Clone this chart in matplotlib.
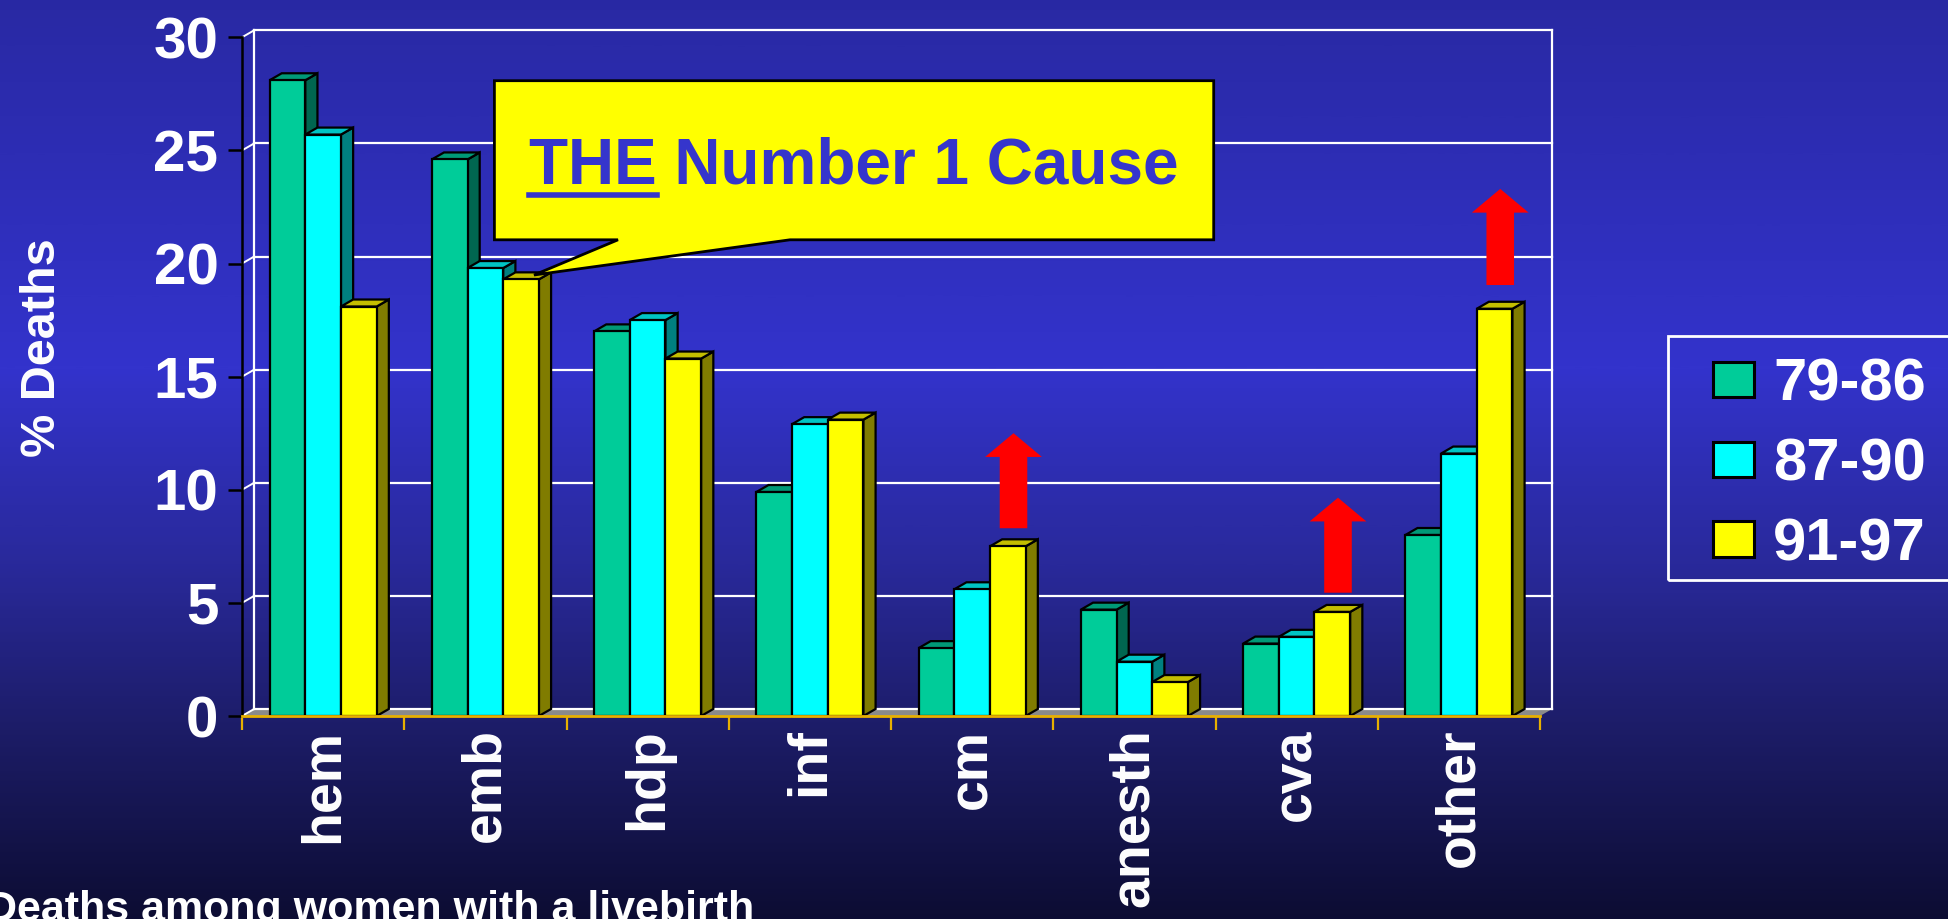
import matplotlib
matplotlib.use("Agg")
import matplotlib.pyplot as plt
import numpy as np
from matplotlib.patches import Polygon, Rectangle, FancyArrow
from matplotlib.colors import LinearSegmentedColormap

plt.rcParams['font.family'] = ['Liberation Sans', 'DejaVu Sans']
plt.rcParams['font.weight'] = 'bold'

categories = ["hem", "emb", "hdp", "inf", "cm", "anesth", "cva", "other"]
periods = ["79-86", "87-90", "91-97"]
deaths_79_86 = [28.1, 24.6, 17.0, 9.9, 3.0, 4.7, 3.2, 8.0]
deaths_87_90 = [25.7, 19.8, 17.5, 12.9, 5.6, 2.4, 3.5, 11.6]
deaths_91_97 = [18.1, 19.3, 15.8, 13.1, 7.5, 1.5, 4.6, 18.0]
y_ticks = [0, 5, 10, 15, 20, 25, 30]

# red arrows showing the rise: category, start value, length
arrow_cats = ["cm", "cva", "other"]
arrow_start = [8.3, 5.45, 19.05]
arrow_len = [4.2, 4.2, 4.25]

callout_text = "THE Number 1 Cause"
caption = "Deaths among women with a livebirth"

front_col = ["#00CC99", "#00FFFF", "#FFFF00"]
top_col = ["#009977", "#00C4C4", "#C4BE00"]
side_col = ["#006650", "#008080", "#807C00"]

W, H = 1948, 919
fig = plt.figure(figsize=(W / 100, H / 100), dpi=100)

def fx(x):
    return x / W

def fy(y):
    return 1 - y / H

# fondo degradado
bg = fig.add_axes([0, 0, 1, 1])
bg.axis("off")
cmap = LinearSegmentedColormap.from_list("bg", [
    (0.0, (0.16, 0.16, 0.64)),
    (0.4, (0.20, 0.20, 0.80)),
    (0.62, (0.16, 0.16, 0.60)),
    (0.8, (0.11, 0.11, 0.40)),
    (1.0, (0.05, 0.05, 0.20))])
grad = np.linspace(0, 1, 400).reshape(-1, 1)
bg.imshow(grad, aspect="auto", cmap=cmap, extent=[0, 1, 0, 1], origin="upper")

ax = fig.add_axes([242 / W, 1 - 716 / H, 1298 / W, 678.7 / H])
ax.set_xlim(-0.5, 7.5)
ax.set_ylim(0, 30)
ax.patch.set_alpha(0)
for s in ["top", "right"]:
    ax.spines[s].set_visible(False)

dx, dy = 0.075, 0.31
n = len(categories)

# suelo y paredes
ax.add_patch(Polygon([(-0.5, 0), (n - 0.5, 0), (n - 0.5 + dx, dy), (-0.5 + dx, dy)],
                     closed=True, fc="#8A8A8A", ec="none", clip_on=False, zorder=1))
for v in y_ticks:
    ax.plot([-0.5 + dx, n - 0.5 + dx], [v + dy, v + dy], color="white", lw=1.6,
            clip_on=False, zorder=1.5)
    ax.plot([-0.5, -0.5 + dx], [v, v + dy], color="white", lw=1.4, clip_on=False, zorder=1.5)
for xe in [-0.5 + dx, n - 0.5 + dx]:
    ax.plot([xe, xe], [dy, 30 + dy], color="white", lw=1.6, clip_on=False, zorder=1.5)

# barras 3D
bw = 0.22
series = [deaths_79_86, deaths_87_90, deaths_91_97]
for j in range(n):
    for i, vals in enumerate(series):
        h = vals[j]
        x0 = j + (i - 1) * bw - bw / 2
        z = 3 + j * 5 + i
        ax.add_patch(Polygon([(x0 + bw, 0), (x0 + bw + dx, dy), (x0 + bw + dx, h + dy), (x0 + bw, h)],
                             closed=True, fc=side_col[i], ec="black", lw=1.6, clip_on=False, zorder=z))
        ax.add_patch(Polygon([(x0, h), (x0 + bw, h), (x0 + bw + dx, h + dy), (x0 + dx, h + dy)],
                             closed=True, fc=top_col[i], ec="black", lw=1.6, clip_on=False, zorder=z))
        ax.add_patch(Rectangle((x0, 0), bw, h, fc=front_col[i], ec="black", lw=1.6,
                               clip_on=False, zorder=z))

# flechas rojas
for c, y0, ln in zip(arrow_cats, arrow_start, arrow_len):
    xa = categories.index(c) + 0.255
    ax.add_patch(FancyArrow(xa, y0, 0, ln, width=0.17, head_width=0.35, head_length=1.05,
                            length_includes_head=True, fc="red", ec="none", zorder=60))

# ejes
ax.spines["left"].set_color("black")
ax.spines["left"].set_linewidth(1.8)
ax.spines["bottom"].set_color("#E8B000")
ax.spines["bottom"].set_linewidth(2)
ax.spines["bottom"].set_zorder(50)
ax.set_yticks(y_ticks)
ax.tick_params(axis="y", length=10, width=1.8, color="black", direction="out",
               labelsize=42, labelcolor="white", pad=7)
ax.set_xticks(np.arange(-0.5, n, 1))
ax.set_xticklabels([])
ax.tick_params(axis="x", which="major", length=10, width=1.6, color="#E8B000", direction="out")
ax.set_xticks(np.arange(n), minor=True)
ax.set_xticklabels(categories, minor=True, rotation=90, va="top", ha="center")
ax.tick_params(axis="x", which="minor", length=0, labelsize=40, labelcolor="white", pad=9)

fig.text(fx(43), fy(348), "% Deaths", rotation=90, ha="center", va="center",
         size=35, color="white")

# leyenda
fig.add_artist(Rectangle((fx(1668), fy(580)), fx(1990 - 1668), (580 - 335.7) / H,
                         transform=fig.transFigure, fill=False, ec="white", lw=2))
for k, lab in enumerate(periods):
    yc = 379.3 + 80 * k
    fig.add_artist(Rectangle((fx(1713), fy(yc + 17.8)), fx(41), 35.6 / H,
                             transform=fig.transFigure, fc=front_col[k], ec="black", lw=2.2))
    fig.text(fx(1773), fy(yc + 21), lab, ha="left", va="baseline", size=43, color="white")

# globo de texto
pts = [(494.4, 80.7), (1213.7, 80.7), (1213.7, 239.8), (790, 239.8), (534, 275),
       (618, 239.8), (494.4, 239.8)]
fig.add_artist(Polygon([(fx(a), fy(b)) for a, b in pts], closed=True,
                       transform=fig.transFigure, fc="#FFFF00", ec="black", lw=2, zorder=70))
fig.text(fx(529), fy(184), callout_text, ha="left", va="baseline", size=46,
         color="#3535CC", zorder=71)
t_the = fig.text(fx(529), fy(184), callout_text.split()[0], ha="left", va="baseline",
                 size=46, alpha=0, zorder=71)
fig.canvas.draw()
bb = t_the.get_window_extent()
fig.add_artist(plt.Line2D([bb.x0 / W, bb.x1 / W], [fy(194.5), fy(194.5)],
                          transform=fig.transFigure, color="#3535CC", lw=4, zorder=72))

fig.text(fx(-14), fy(921), caption, ha="left", va="baseline", size=31, color="white")

fig.savefig("out.png", dpi=100)
